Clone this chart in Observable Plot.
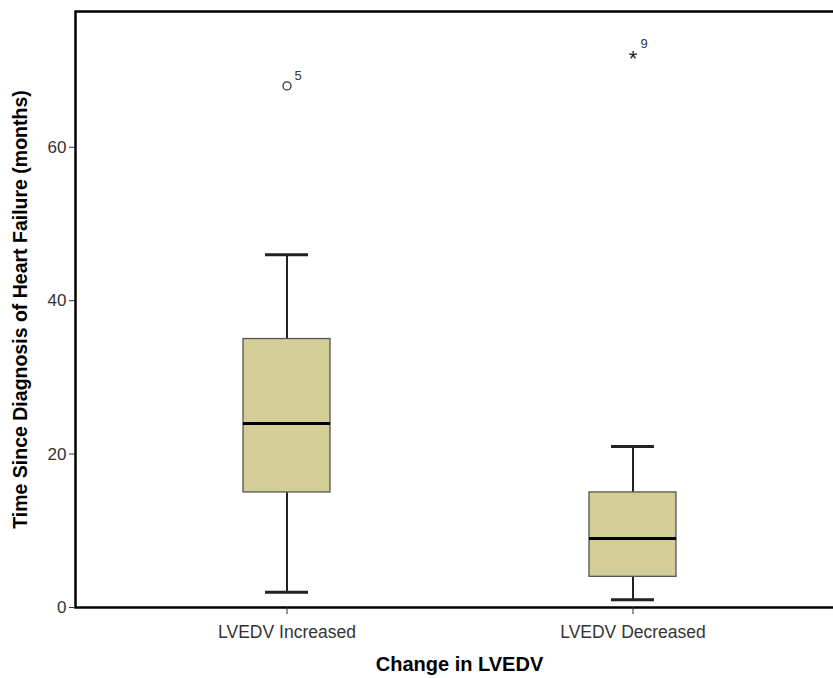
<!DOCTYPE html>
<html>
<head>
<meta charset="utf-8">
<script src="https://cdn.jsdelivr.net/npm/d3@7"></script>
<script src="https://cdn.jsdelivr.net/npm/@observablehq/plot@0.6"></script>
<style>
  html, body { margin: 0; padding: 0; background: #fff; overflow: hidden; }
  #chart svg { display: block; }
</style>
</head>
<body>
<div id="chart"></div>
<script>
const groups = ["LVEDV Increased", "LVEDV Decreased"];
const whiskerLow = [2, 1];
const q1 = [15, 4];
const median = [24, 9];
const q3 = [35, 15];
const whiskerHigh = [46, 21];

const outlierGroup = ["LVEDV Increased"];
const outlierValue = [68];
const outlierLabel = ["5"];

const extremeGroup = ["LVEDV Decreased"];
const extremeValue = [72];
const extremeLabel = ["9"];

const yTicks = [0, 20, 40, 60];
const yTitle = "Time Since Diagnosis of Heart Failure (months)";
const xTitle = "Change in LVEDV";

const boxes = groups.map((g, i) => ({
  group: g, lo: whiskerLow[i], q1: q1[i], med: median[i], q3: q3[i], hi: whiskerHigh[i]
}));
const outliers = outlierGroup.map((g, i) => ({group: g, value: outlierValue[i], label: outlierLabel[i]}));
const extremes = extremeGroup.map((g, i) => ({group: g, value: extremeValue[i], label: extremeLabel[i]}));

const font = "'Liberation Sans', Arial, sans-serif";

const chart = Plot.plot({
  width: 833,
  height: 678,
  marginLeft: 75,
  marginRight: 0,
  marginTop: 11,
  marginBottom: 71,
  style: {fontFamily: font, overflow: "hidden", background: "#fff"},
  x: {type: "band", domain: groups, range: [113, 805], paddingInner: 0.7486, paddingOuter: 0.3743, label: null},
  y: {domain: [0, 77.7], label: null},
  marks: [
    // whiskers
    Plot.ruleX(boxes, {x: "group", y1: "lo", y2: "q1", stroke: "#222", strokeWidth: 2}),
    Plot.ruleX(boxes, {x: "group", y1: "q3", y2: "hi", stroke: "#222", strokeWidth: 2}),
    Plot.tickY(boxes, {x: "group", y: "lo", stroke: "#222", strokeWidth: 3, insetLeft: 22, insetRight: 22}),
    Plot.tickY(boxes, {x: "group", y: "hi", stroke: "#222", strokeWidth: 3, insetLeft: 22, insetRight: 22}),
    // boxes
    Plot.barY(boxes, {x: "group", y1: "q1", y2: "q3", fill: "#D3CE97", stroke: "#555", strokeWidth: 1.3}),
    Plot.tickY(boxes, {x: "group", y: "med", stroke: "#000", strokeWidth: 3}),
    // outliers
    Plot.dot(outliers, {x: "group", y: "value", r: 4, stroke: "#333", strokeWidth: 1.3, fill: "#fff"}),
    Plot.text(outliers, {x: "group", y: "value", text: "label", dx: 11, dy: -10, fontSize: 13, fill: "#333"}),
    Plot.text(extremes, {x: "group", y: "value", text: () => "*", fontSize: 22, dy: 4, fill: "#222"}),
    Plot.text(extremes, {x: "group", y: "value", text: "label", dx: 11, dy: -11, fontSize: 13, fill: "#333"}),
    // frame (top, left, bottom; right edge pushed off the canvas)
    Plot.frame({stroke: "#000", strokeWidth: 2.5, insetRight: -10}),
    // axes
    Plot.axisY({ticks: yTicks, tickSize: 6, tickPadding: 3, fontSize: 17, color: "#333", label: null}),
    Plot.axisX({tickSize: 7, tickPadding: 11, fontSize: 17.5, color: "#333", label: null}),
    // titles
    Plot.text([yTitle], {frameAnchor: "left", textAnchor: "middle", dx: -55, rotate: -90, fontSize: 19.5, fontWeight: "bold", fill: "#000"}),
    Plot.text([xTitle], {frameAnchor: "bottom", dx: 5, dy: 63, fontSize: 20, fontWeight: "bold", fill: "#000"})
  ]
});
document.getElementById("chart").appendChild(chart);
</script>
</body>
</html>
